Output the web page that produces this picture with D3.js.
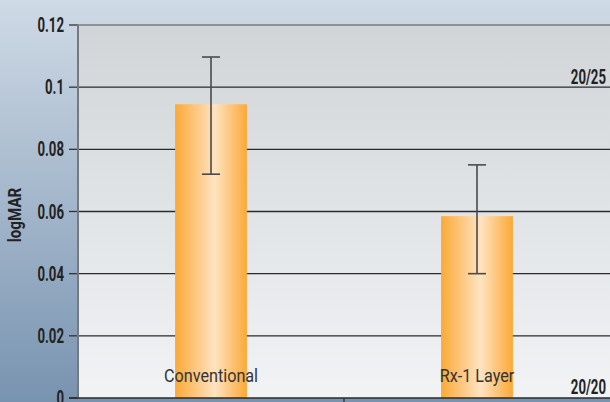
<!DOCTYPE html>
<html><head><meta charset="utf-8">
<script src="https://cdn.jsdelivr.net/npm/d3@7"></script>
<style>html,body{margin:0;padding:0;overflow:hidden;background:#fff}</style>
</head><body>
<svg id="c" width="610" height="402"></svg>
<script>
const categories = ["Conventional", "Rx-1 Layer"];
const means = [0.0945, 0.0585];
const errLow = [0.072, 0.040];
const errHigh = [0.1097, 0.075];
const yTicks = [0, 0.02, 0.04, 0.06, 0.08, 0.1, 0.12];
const yTickLabels = ["0", "0.02", "0.04", "0.06", "0.08", "0.1", "0.12"];
const refLabels = [{v: 0.1, t: "20/25"}, {v: 0, t: "20/20"}];

const W = 610, H = 402;
const m = {l: 78, r: 0, t: 25, b: 4};
const svg = d3.select("#c");
const defs = svg.append("defs");

const bg = defs.append("linearGradient").attr("id","bg").attr("x1",0).attr("y1",0).attr("x2",0).attr("y2",1);
bg.append("stop").attr("offset","0%").attr("stop-color","#cfdae6");
bg.append("stop").attr("offset","100%").attr("stop-color","#7893b0");
const pg = defs.append("linearGradient").attr("id","pg").attr("x1",0).attr("y1",0).attr("x2",0).attr("y2",1);
pg.append("stop").attr("offset","0%").attr("stop-color","#d1d5d8");
pg.append("stop").attr("offset","100%").attr("stop-color","#f1f3f5");
const bar = defs.append("linearGradient").attr("id","bar").attr("x1",0).attr("y1",0).attr("x2",1).attr("y2",0);
bar.append("stop").attr("offset","0%").attr("stop-color","#fba936");
bar.append("stop").attr("offset","55%").attr("stop-color","#fee3c2");
bar.append("stop").attr("offset","100%").attr("stop-color","#fba936");

const y = d3.scaleLinear().domain([0, 0.12]).range([H - m.b, m.t]);
const x = d3.scaleBand().domain(categories).range([m.l, W - m.r]).padding(0);
const barW = x.bandwidth() * 0.27;

svg.append("rect").attr("width", W).attr("height", H).attr("fill", "url(#bg)");
svg.append("rect").attr("x", m.l).attr("y", m.t).attr("width", W - m.l - m.r).attr("height", y(0) - m.t).attr("fill", "url(#pg)");

function ctext(g, px, py, txt, opts) {
  const t = g.append("text")
    .attr("transform", `translate(${px},${py}) scale(${opts.sx||1},1)`)
    .attr("text-anchor", opts.anchor || "start")
    .attr("font-family", "Roboto, 'DejaVu Sans', sans-serif")
    .attr("font-size", opts.size || 19)
    .attr("font-weight", opts.weight || 500)
    .attr("fill", opts.fill || "#222")
    .text(txt);
  return t;
}

// gridlines
svg.append("g").selectAll("line").data(yTicks.filter(v => v > 0 && v < 0.12)).join("line")
  .attr("x1", m.l).attr("x2", W).attr("y1", d => y(d)).attr("y2", d => y(d))
  .attr("stroke", "#2a2a2a").attr("stroke-width", 1.4);
svg.append("line").attr("x1", m.l).attr("x2", W).attr("y1", y(0.12)).attr("y2", y(0.12))
  .attr("stroke", "#7a7d80").attr("stroke-width", 1.5);

// y axis ticks
svg.append("g").selectAll("line").data(yTicks).join("line")
  .attr("x1", m.l - 9).attr("x2", m.l).attr("y1", d => y(d)).attr("y2", d => y(d))
  .attr("stroke", "#333").attr("stroke-width", 1.3);

// bars
svg.append("g").selectAll("rect").data(categories).join("rect")
  .attr("x", d => x(d) + x.bandwidth()/2 - barW/2)
  .attr("width", barW)
  .attr("y", (d,i) => y(means[i]))
  .attr("height", (d,i) => y(0) - y(means[i]))
  .attr("fill", "url(#bar)");

// error bars
const eg = svg.append("g").attr("stroke", "#4a4a4a").attr("stroke-width", 1.6);
categories.forEach((c, i) => {
  const cx = x(c) + x.bandwidth()/2;
  eg.append("line").attr("x1", cx).attr("x2", cx).attr("y1", y(errHigh[i])).attr("y2", y(errLow[i]));
  eg.append("line").attr("x1", cx - 9).attr("x2", cx + 9).attr("y1", y(errHigh[i])).attr("y2", y(errHigh[i]));
  eg.append("line").attr("x1", cx - 9).attr("x2", cx + 9).attr("y1", y(errLow[i])).attr("y2", y(errLow[i]));
});

// left axis line
svg.append("line").attr("x1", m.l).attr("x2", m.l).attr("y1", m.t).attr("y2", y(0))
  .attr("stroke", "#77797c").attr("stroke-width", 2);
// bottom axis line
svg.append("line").attr("x1", m.l - 9).attr("x2", W).attr("y1", y(0)).attr("y2", y(0))
  .attr("stroke", "#2a2a2a").attr("stroke-width", 1.6);
svg.append("line").attr("x1", x(categories[1])).attr("x2", x(categories[1])).attr("y1", y(0)).attr("y2", H)
  .attr("stroke", "#2a2a2a").attr("stroke-width", 1.2);

// tick labels
const tg = svg.append("g");
yTicks.forEach((v, i) => ctext(tg, 64, y(v) + 7, yTickLabels[i], {anchor: "end", sx: 0.66, size: 20, weight: 700}));

// reference labels
refLabels.forEach(r => ctext(tg, 606, y(r.v) - (r.v === 0 ? 4 : 3.5), r.t, {anchor: "end", sx: 0.66, size: 20, weight: 700}));

// category labels
categories.forEach(c => ctext(tg, x(c) + x.bandwidth()/2, 382, c, {anchor: "middle", sx: 0.9, size: 18, weight: 400, fill: "#333"}));

// y title
svg.append("text")
  .attr("transform", `translate(21,${215}) rotate(-90) scale(0.8,1)`)
  .attr("text-anchor", "middle")
  .attr("font-family", "Roboto, 'DejaVu Sans', sans-serif")
  .attr("font-size", 19).attr("font-weight", 700).attr("fill", "#222")
  .text("logMAR");
</script>
</body></html>
